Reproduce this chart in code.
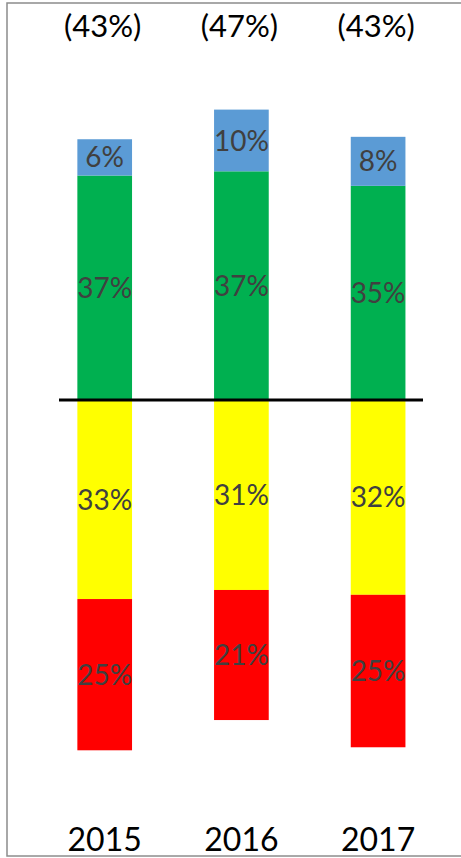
<html lang="en">
  <head>
    <meta charset="UTF-8" />
    <style>
      body { margin: 0; background: #fff; }
      svg { display: block; font-family: Lato, "Open Sans", sans-serif; }
    </style>
    <title>Stacked split bars</title>
  </head>
  <body>
    <script src="https://cdn.jsdelivr.net/npm/d3@7"></script>
    <script>
      const years = ["2015", "2016", "2017"];
      // positive side (above the line)
      const green = [37.1, 37.8, 35.4];
      const blue = [6.0, 10.2, 8.1];
      // negative side (below the line)
      const yellow = [32.9, 31.4, 32.2];
      const red = [25.0, 21.5, 25.2];
      const greenLabels = ["37%", "37%", "35%"];
      const blueLabels = ["6%", "10%", "8%"];
      const yellowLabels = ["33%", "31%", "32%"];
      const redLabels = ["25%", "21%", "25%"];
      const totals = ["(43%)", "(47%)", "(43%)"];

      const width = 461;
      const height = 858;
      const zeroY = 400;
      const pxPer = 6.05;

      const svg = d3
        .select("body")
        .append("svg")
        .attr("width", width)
        .attr("height", height);

      // chart frame
      svg
        .append("rect")
        .attr("x", 7)
        .attr("y", 3)
        .attr("width", 520)
        .attr("height", 853)
        .attr("fill", "none")
        .attr("stroke", "#8c8c8c")
        .attr("stroke-width", 1.5);

      const x = d3
        .scaleBand()
        .domain(years)
        .range([36.35, 446.45])
        .paddingInner(0.6)
        .paddingOuter(0.3);

      const y = d3
        .scaleLinear()
        .domain([-60, 60])
        .range([zeroY + 60 * pxPer, zeroY - 60 * pxPer]);

      // build segments: [start, end] per year
      const segs = [];
      years.forEach((yr, i) => {
        segs.push({ yr, y0: 0, y1: green[i], color: "#00b050", label: greenLabels[i] });
        segs.push({ yr, y0: green[i], y1: green[i] + blue[i], color: "#5b9bd5", label: blueLabels[i] });
        segs.push({ yr, y0: -yellow[i], y1: 0, color: "#ffff00", label: yellowLabels[i] });
        segs.push({ yr, y0: -yellow[i] - red[i], y1: -yellow[i], color: "#ff0000", label: redLabels[i] });
      });

      svg
        .selectAll("rect.seg")
        .data(segs)
        .enter()
        .append("rect")
        .attr("class", "seg")
        .attr("x", d => x(d.yr))
        .attr("y", d => y(d.y1))
        .attr("width", x.bandwidth())
        .attr("height", d => y(d.y0) - y(d.y1))
        .attr("fill", d => d.color);

      svg
        .selectAll("text.seg")
        .data(segs)
        .enter()
        .append("text")
        .attr("class", "seg")
        .attr("x", d => x(d.yr) + x.bandwidth() / 2)
        .attr("y", d => y((d.y0 + d.y1) / 2))
        .attr("dy", "0.36em")
        .attr("text-anchor", "middle")
        .attr("font-size", 28)
        .attr("fill", "#404040")
        .text(d => d.label);

      // zero line
      svg
        .append("line")
        .attr("x1", 59)
        .attr("x2", 423)
        .attr("y1", y(0))
        .attr("y2", y(0))
        .attr("stroke", "#000")
        .attr("stroke-width", 3);

      // totals on top
      svg
        .selectAll("text.total")
        .data(years)
        .enter()
        .append("text")
        .attr("class", "total")
        .attr("x", d => x(d) + x.bandwidth() / 2 - 2)
        .attr("y", 37)
        .attr("text-anchor", "middle")
        .attr("font-size", 31)
        .attr("fill", "#000")
        .text((d, i) => totals[i]);

      // year labels
      svg
        .selectAll("text.year")
        .data(years)
        .enter()
        .append("text")
        .attr("class", "year")
        .attr("x", d => x(d) + x.bandwidth() / 2)
        .attr("y", 851)
        .attr("text-anchor", "middle")
        .attr("font-size", 32)
        .attr("fill", "#000")
        .text(d => d);
    </script>
  </body>
</html>
